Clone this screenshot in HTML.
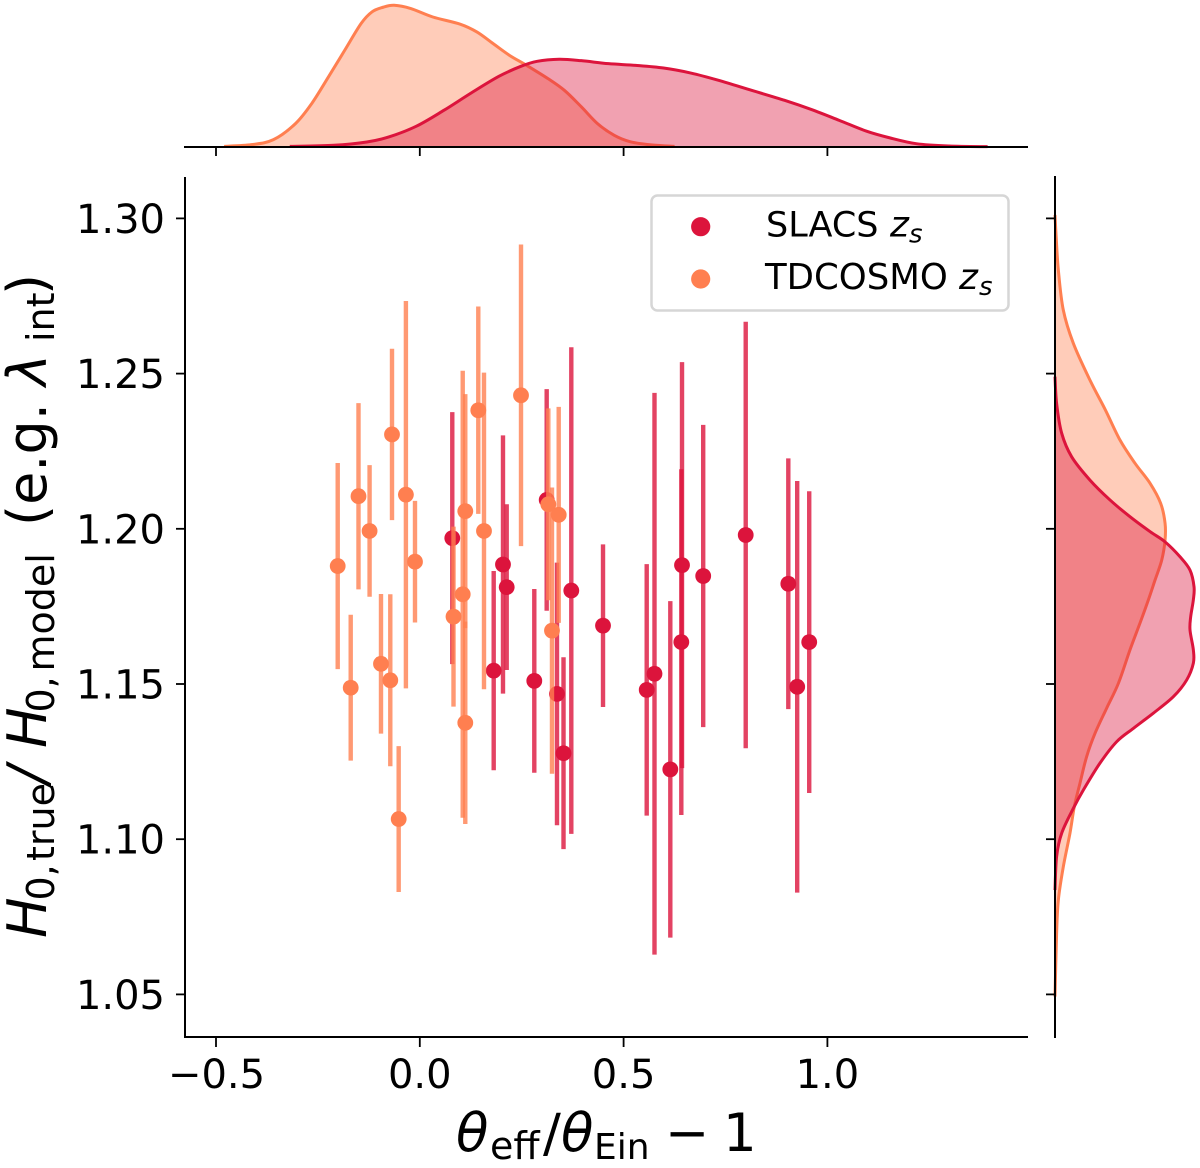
<!DOCTYPE html>
<html lang="en">
<head>
<meta charset="utf-8">
<title>H0 ratio vs theta ratio joint plot</title>
<style>
  html, body { margin: 0; padding: 0; background: #fff; }
  svg { display: block; font-family: "DejaVu Sans", "Liberation Sans", sans-serif; }
</style>
</head>
<body>
<svg id="chart" xmlns="http://www.w3.org/2000/svg" width="1200" height="1168" viewBox="0 0 1200 1168">
  <rect width="1200" height="1168" fill="#ffffff"/>
  <g id="top-kde"></g>
  <g id="right-kde"></g>
  <g id="marks"></g>
  <g id="axes"></g>

  <text font-size="53" fill="#000"><tspan font-style="italic" x="456" y="1151">θ</tspan><tspan font-size="38" x="490" y="1159">eff</tspan><tspan x="543" y="1151">/</tspan><tspan font-style="italic" x="561" y="1151">θ</tspan><tspan font-size="36" x="594" y="1159">Ein</tspan><tspan x="665" y="1151">−</tspan><tspan x="723" y="1151">1</tspan></text>

  <text transform="translate(46 938) rotate(-90)" font-size="54" fill="#000"><tspan font-style="italic" x="0" y="0">H</tspan><tspan font-size="38" x="37.5" y="8">0,</tspan><tspan font-size="38" x="77" y="8">true</tspan><tspan font-style="italic" x="154" y="0">/</tspan><tspan font-style="italic" x="190" y="0">H</tspan><tspan font-size="38" x="225.5" y="8">0,</tspan><tspan font-size="38" x="266.5" y="8">model</tspan><tspan x="412" y="0">(e.g.</tspan><tspan font-style="italic" x="552" y="0">λ</tspan><tspan font-size="38" x="596" y="8">int</tspan><tspan x="643" y="0">)</tspan></text>

  <g>
    <rect x="651.5" y="195.5" width="357" height="115" rx="6" ry="6" fill="#ffffff" fill-opacity="0.8" stroke="#d6d6d6" stroke-width="2.5"/>
    <circle cx="700.7" cy="226.7" r="9.6" fill="#DC143C"/>
    <text font-size="35" fill="#000"><tspan x="766" y="236.5">SLACS</tspan><tspan font-style="italic" font-size="36" x="890" y="236.5">z</tspan><tspan font-style="italic" font-size="26" x="909" y="242.5">s</tspan></text>
    <circle cx="700.7" cy="279" r="9.6" fill="#FF7F50"/>
    <text font-size="35.5" fill="#000"><tspan x="765" y="289">TDCOSMO</tspan><tspan font-style="italic" font-size="36" x="959" y="289">z</tspan><tspan font-style="italic" font-size="26" x="979" y="295">s</tspan></text>
  </g>
</svg>

<script>
// ---- Chart data ----
const slacsTheta = [0.0797, 0.2041, 0.2132, 0.1813, 0.2809, 0.3113, 0.3717, 0.3366, 0.3526, 0.4495, 0.5567, 0.5758, 0.6146, 0.6433, 0.6416, 0.6953, 0.7996, 0.9041, 0.9259, 0.9554];
const slacsH0 = [1.1970, 1.1885, 1.1812, 1.1543, 1.1510, 1.2093, 1.1801, 1.1468, 1.1277, 1.1688, 1.1481, 1.1533, 1.1225, 1.1883, 1.1635, 1.1848, 1.1980, 1.1823, 1.1491, 1.1635];
const slacsErr = [0.0406, 0.0416, 0.0267, 0.0321, 0.0296, 0.0357, 0.0784, 0.0423, 0.0309, 0.0262, 0.0405, 0.0905, 0.0542, 0.0654, 0.0557, 0.0487, 0.0687, 0.0404, 0.0663, 0.0486];

const tdcosmoTheta = [-0.2014, -0.1695, -0.1504, -0.1232, -0.0952, -0.0724, -0.0682, -0.0341, -0.0118, -0.0518, 0.0827, 0.1053, 0.1116, 0.1116, 0.1435, 0.1575, 0.2483, 0.3153, 0.3243, 0.3408];
const tdcosmoH0 = [1.1880, 1.1488, 1.2105, 1.1993, 1.1565, 1.1512, 1.2304, 1.2110, 1.1894, 1.1065, 1.1717, 1.1789, 1.2057, 1.1375, 1.2382, 1.1993, 1.2430, 1.2079, 1.1672, 1.2045];
const tdcosmoErr = [0.0332, 0.0235, 0.0300, 0.0212, 0.0225, 0.0277, 0.0276, 0.0624, 0.0196, 0.0235, 0.0290, 0.0720, 0.0377, 0.0326, 0.0334, 0.0510, 0.0486, 0.0309, 0.0461, 0.0348];

const tdcosmoKdeThetaGrid = [-0.48, -0.413, -0.359, -0.305, -0.265, -0.224, -0.184, -0.144, -0.117, -0.09, -0.063, -0.022, 0.032, 0.099, 0.14, 0.18, 0.22, 0.261, 0.315, 0.355, 0.396, 0.436, 0.477, 0.517, 0.571, 0.625];
const tdcosmoKdeTheta = [0.01, 0.036, 0.113, 0.36, 0.67, 1.08, 1.49, 1.9, 2.08, 2.15, 2.18, 2.13, 2.0, 1.89, 1.77, 1.59, 1.41, 1.26, 1.05, 0.87, 0.62, 0.36, 0.18, 0.08, 0.03, 0.01];
const slacsKdeThetaGrid = [-0.319, -0.211, -0.13, -0.076, -0.009, 0.059, 0.126, 0.194, 0.248, 0.288, 0.342, 0.396, 0.463, 0.53, 0.598, 0.665, 0.733, 0.814, 0.895, 0.962, 1.029, 1.097, 1.151, 1.218, 1.299, 1.393];
const slacsKdeTheta = [0.01, 0.026, 0.077, 0.154, 0.318, 0.564, 0.831, 1.087, 1.241, 1.318, 1.349, 1.328, 1.282, 1.256, 1.215, 1.138, 1.026, 0.872, 0.718, 0.574, 0.41, 0.241, 0.144, 0.051, 0.015, 0.005];

const tdcosmoKdeH0Grid = [1.3011, 1.2941, 1.2834, 1.2705, 1.2598, 1.2479, 1.2383, 1.2286, 1.2211, 1.2147, 1.2082, 1.2018, 1.1964, 1.1899, 1.1835, 1.1771, 1.1696, 1.1610, 1.1502, 1.1422, 1.1341, 1.1266, 1.118, 1.1105, 1.1019, 1.0911, 1.0804, 1.0697, 1.0493];
const tdcosmoKdeH0 = [0, 0.1, 0.29, 0.72, 1.59, 3.04, 4.38, 5.65, 6.96, 8.26, 9.19, 9.57, 9.57, 9.28, 8.7, 8.12, 7.39, 6.52, 5.51, 4.49, 3.48, 2.75, 2.17, 1.68, 1.3, 0.72, 0.29, 0.14, 0];
const slacsKdeH0Grid = [1.249, 1.2404, 1.2308, 1.2232, 1.2157, 1.2093, 1.2039, 1.1991, 1.1958, 1.191, 1.1867, 1.1813, 1.1771, 1.1717, 1.1674, 1.161, 1.1567, 1.1513, 1.1459, 1.1406, 1.1357, 1.1314, 1.1245, 1.1158, 1.1099, 1.1019, 1.0944, 1.0836];
const slacsKdeH0 = [0, 0.14, 0.58, 1.45, 3.04, 4.78, 6.52, 8.26, 9.57, 10.87, 11.74, 12.09, 12.03, 11.8, 11.74, 12.03, 12.03, 11.45, 10.29, 8.55, 6.81, 5.36, 3.91, 2.46, 1.59, 0.58, 0.14, 0];

const xTickValues = [-0.5, 0.0, 0.5, 1.0];
const xTickLabels = ["−0.5", "0.0", "0.5", "1.0"];
const yTickValues = [1.05, 1.10, 1.15, 1.20, 1.25, 1.30];
const yTickLabels = ["1.05", "1.10", "1.15", "1.20", "1.25", "1.30"];

// ---- Axis functions ----
function xPos(v) { return 419.8 + 407.6 * v; }
function yPos(v) { return 528.8 - 3104 * (v - 1.2); }
function topDensityY(d) { return 147 - 65 * d; }
function rightDensityX(d) { return 1055 + 11.5 * d; }

const SVGNS = "http://www.w3.org/2000/svg";
function make(parent, tag, attrs) {
  const el = document.createElementNS(SVGNS, tag);
  for (const k in attrs) el.setAttribute(k, attrs[k]);
  parent.appendChild(el);
  return el;
}

function smoothPath(pts) {
  let d = "M" + pts[0][0].toFixed(2) + " " + pts[0][1].toFixed(2);
  for (let i = 0; i < pts.length - 1; i++) {
    const p0 = pts[Math.max(i - 1, 0)];
    const p1 = pts[i];
    const p2 = pts[i + 1];
    const p3 = pts[Math.min(i + 2, pts.length - 1)];
    const c1x = p1[0] + (p2[0] - p0[0]) / 6;
    const c1y = p1[1] + (p2[1] - p0[1]) / 6;
    const c2x = p2[0] - (p3[0] - p1[0]) / 6;
    const c2y = p2[1] - (p3[1] - p1[1]) / 6;
    d += "C" + c1x.toFixed(2) + " " + c1y.toFixed(2) + " " + c2x.toFixed(2) + " " + c2y.toFixed(2) + " " + p2[0].toFixed(2) + " " + p2[1].toFixed(2);
  }
  return d;
}

function drawKde(group, pts, close, color, seriesName) {
  const line = smoothPath(pts);
  const fill = make(group, "path", { d: line + close, fill: color, "fill-opacity": 0.4, stroke: "none" });
  
  
  const stroke = make(group, "path", { d: line, fill: "none", stroke: color, "stroke-width": 3, "stroke-linejoin": "round" });
  
  
}

const CRIMSON = "#DC143C";
const CORAL = "#FF7F50";

// Top marginal
const topGroup = document.getElementById("top-kde");
const coralTop = tdcosmoKdeThetaGrid.map((v, i) => [xPos(v), topDensityY(tdcosmoKdeTheta[i])]);
const crimsonTop = slacsKdeThetaGrid.map((v, i) => [xPos(v), topDensityY(slacsKdeTheta[i])]);
drawKde(topGroup, coralTop, "L" + coralTop[coralTop.length - 1][0] + " 147L" + coralTop[0][0] + " 147Z", CORAL, "tdcosmo-top");
drawKde(topGroup, crimsonTop, "L" + crimsonTop[crimsonTop.length - 1][0] + " 147L" + crimsonTop[0][0] + " 147Z", CRIMSON, "slacs-top");

// Right marginal
const rightGroup = document.getElementById("right-kde");
const coralRight = tdcosmoKdeH0Grid.map((v, i) => [rightDensityX(tdcosmoKdeH0[i]), yPos(v)]);
const crimsonRight = slacsKdeH0Grid.map((v, i) => [rightDensityX(slacsKdeH0[i]), yPos(v)]);
drawKde(rightGroup, coralRight, "L1055 " + coralRight[coralRight.length - 1][1] + "L1055 " + coralRight[0][1] + "Z", CORAL, "tdcosmo-right");
drawKde(rightGroup, crimsonRight, "L1055 " + crimsonRight[crimsonRight.length - 1][1] + "L1055 " + crimsonRight[0][1] + "Z", CRIMSON, "slacs-right");

// Scatter with error bars
function drawSeries(thetas, h0s, errs, color, seriesName) {
  const marks = document.getElementById("marks");
  thetas.forEach((t, i) => {
    const bar = make(marks, "line", {
      x1: xPos(t), x2: xPos(t),
      y1: yPos(h0s[i] + errs[i]), y2: yPos(h0s[i] - errs[i]),
      stroke: color, "stroke-width": 4.4, "stroke-opacity": 0.8
    });
    
    
  });
  thetas.forEach((t, i) => {
    const dot = make(marks, "circle", { cx: xPos(t), cy: yPos(h0s[i]), r: 7.9, fill: color });
    
    
  });
}
drawSeries(slacsTheta, slacsH0, slacsErr, CRIMSON, "slacs");
drawSeries(tdcosmoTheta, tdcosmoH0, tdcosmoErr, CORAL, "tdcosmo");

// Axes
const axes = document.getElementById("axes");
function spine(x1, y1, x2, y2, name) {
  const el = make(axes, "line", { x1: x1, y1: y1, x2: x2, y2: y2, stroke: "#000", "stroke-width": 2, "stroke-linecap": "square" });
  
  
}
spine(185, 178, 185, 1037, "main-y-spine");
spine(185, 1037, 1027, 1037, "main-x-spine");
spine(185, 147, 1027, 147, "top-marginal-spine");
spine(1055, 177, 1055, 1037, "right-marginal-spine");

xTickValues.forEach((v, i) => {
  const x = xPos(v);
  const tick = make(axes, "line", { x1: x, x2: x, y1: 1038, y2: 1047, stroke: "#000", "stroke-width": 1.8 });
  
  
  const topTick = make(axes, "line", { x1: x, x2: x, y1: 148, y2: 156, stroke: "#000", "stroke-width": 1.8 });
  
  
  const label = make(axes, "text", { x: x + (i === 0 ? 0.5 : 0), y: 1088, "font-size": 40, "text-anchor": "middle", fill: "#000" });
  label.textContent = xTickLabels[i];
  
  
});

yTickValues.forEach((v, i) => {
  const y = yPos(v);
  const tick = make(axes, "line", { x1: 176, x2: 185, y1: y, y2: y, stroke: "#000", "stroke-width": 1.8 });
  
  
  const rightTick = make(axes, "line", { x1: 1046, x2: 1055, y1: y, y2: y, stroke: "#000", "stroke-width": 1.8 });
  
  
  const label = make(axes, "text", { x: 165, y: y + 14.5, "font-size": 40, "text-anchor": "end", fill: "#000" });
  label.textContent = yTickLabels[i];
  
  
});
</script>
</body>
</html>
